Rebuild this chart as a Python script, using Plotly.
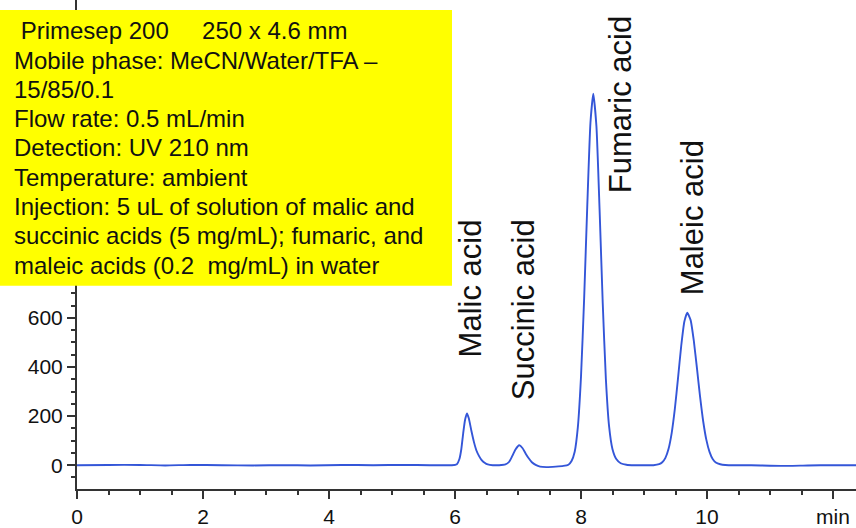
import plotly.graph_objects as go

# Chromatogram trace (time in min, signal in mAU)
time_min = [0.0, 0.5, 1.0, 1.4, 1.8, 2.3, 2.8, 3.3, 3.7, 4.2, 4.7, 5.2, 5.6, 5.95,
            6.03, 6.07, 6.10, 6.13, 6.16, 6.19, 6.22, 6.26, 6.30, 6.34, 6.38, 6.42, 6.47, 6.52, 6.60, 6.70,
            6.80, 6.86, 6.91, 6.96, 7.02, 7.07, 7.12, 7.17, 7.22, 7.28, 7.35, 7.45, 7.60, 7.72, 7.80,
            7.85, 7.90, 7.95, 8.00, 8.05, 8.10, 8.15, 8.195, 8.245, 8.295, 8.345, 8.395, 8.445, 8.50,
            8.56, 8.63, 8.72, 8.85, 9.0, 9.15, 9.24,
            9.29, 9.34, 9.39, 9.44, 9.49, 9.54, 9.59, 9.64, 9.687, 9.74, 9.79, 9.84, 9.89, 9.94, 9.99,
            10.04, 10.09, 10.14, 10.21, 10.29, 10.45, 10.7, 11.0, 11.3, 11.6, 12.0, 12.4]
signal = [0, 1, 1, -1, 1, 0, -1, 0, -1, 1, 0, 1, 0, 0,
          4, 25, 65, 130, 185, 211, 190, 140, 95, 60, 38, 22, 10, 3, 0, 0,
          3, 14, 38, 64, 81, 70, 48, 28, 12, 1, -6, -8, -6, -3, 2,
          17, 55, 155, 360, 680, 1060, 1395, 1513, 1380, 1040, 660, 350, 160, 65,
          25, 8, 2, 0, 0, 0, 4,
          12, 30, 67, 132, 230, 355, 484, 584, 621, 591, 508, 396, 279, 178, 103,
          54, 25, 11, 4, 1, 0, 0, -2, -3, -1, 0, 0]

peak_names = ["Malic acid", "Succinic acid", "Fumaric acid", "Maleic acid"]
label_x = [6.25, 7.085, 8.64, 9.76]
label_y = [434, 260, 1103, 690]

x_tick_vals = [0, 2, 4, 6, 8, 10, 12]
x_tick_text = ["0", "2", "4", "6", "8", "10", "min"]
y_tick_vals = [0, 200, 400, 600, 800, 1000, 1200, 1400, 1600, 1800]

info_lines = [
    "\u00a0Primesep 200\u00a0\u00a0\u00a0\u00a0\u00a0250 x 4.6 mm",
    "Mobile phase: MeCN/Water/TFA \u2013",
    "15/85/0.1",
    "Flow rate: 0.5 mL/min",
    "Detection: UV 210 nm",
    "Temperature: ambient",
    "Injection: 5 uL of solution of malic and",
    "succinic acids (5 mg/mL); fumaric, and",
    "maleic acids (0.2\u00a0\u00a0mg/mL) in water",
]

FONT = "Liberation Sans, Arial, sans-serif"
W, H = 856, 528
ML, MR, MT, MB = 77, 0, 0, 37
PW, PH = W - ML - MR, H - MT - MB

def px_x(px):
    return (px - ML) / PW

def px_y(py):
    return (H - MB - py) / PH

fig = go.Figure()
fig.add_trace(go.Scatter(x=time_min, y=signal, mode="lines",
                         line=dict(color="#3456d8", width=1.9, shape="spline", smoothing=0.5),
                         hoverinfo="skip", showlegend=False))

for name, lx, ly in zip(peak_names, label_x, label_y):
    fig.add_annotation(x=lx, y=ly, xref="x", yref="y", text=name, textangle=-90,
                       showarrow=False, xanchor="center", yanchor="bottom",
                       font=dict(family=FONT, size=31, color="#111111"), borderpad=0)

# yellow info box
fig.add_shape(type="rect", xref="paper", yref="paper",
              x0=px_x(0), x1=px_x(452), y0=px_y(287), y1=px_y(10),
              fillcolor="#ffff00", line=dict(width=0), layer="above")

for i, line in enumerate(info_lines):
    cy = 31 + 29.4 * i
    fig.add_annotation(x=px_x(13), y=px_y(cy), xref="paper", yref="paper",
                       text=line, showarrow=False, xanchor="left", yanchor="middle",
                       height=29, valign="middle",
                       font=dict(family=FONT, size=24, color="#111111"), borderpad=0)

fig.update_layout(
    width=W, height=H,
    margin=dict(l=ML, r=MR, t=MT, b=MB),
    paper_bgcolor="white", plot_bgcolor="white",
    font=dict(family=FONT, size=21, color="#111111"),
    xaxis=dict(range=[0, 12.365], tickvals=x_tick_vals, ticktext=x_tick_text,
               ticks="outside", ticklen=8, tickwidth=1.5, tickcolor="#333333",
               showline=True, linecolor="#333333", linewidth=2,
               showgrid=False, zeroline=False,
               minor=dict(dtick=0.5, ticks="outside", ticklen=4, tickwidth=1.5, tickcolor="#333333"),
               tickfont=dict(family=FONT, size=21, color="#111111")),
    yaxis=dict(range=[-97, 1895], tickvals=y_tick_vals,
               ticks="outside", ticklen=8, tickwidth=1.5, tickcolor="#333333",
               showline=True, linecolor="#333333", linewidth=2,
               showgrid=False, zeroline=False,
               minor=dict(dtick=50, tick0=0, ticks="outside", ticklen=4, tickwidth=1.5, tickcolor="#333333"),
               tickfont=dict(family=FONT, size=21, color="#111111")),
)

fig.write_html("out.html", config={"displayModeBar": False},
               post_script="document.body.style.margin='0';document.body.style.overflow='hidden';")
